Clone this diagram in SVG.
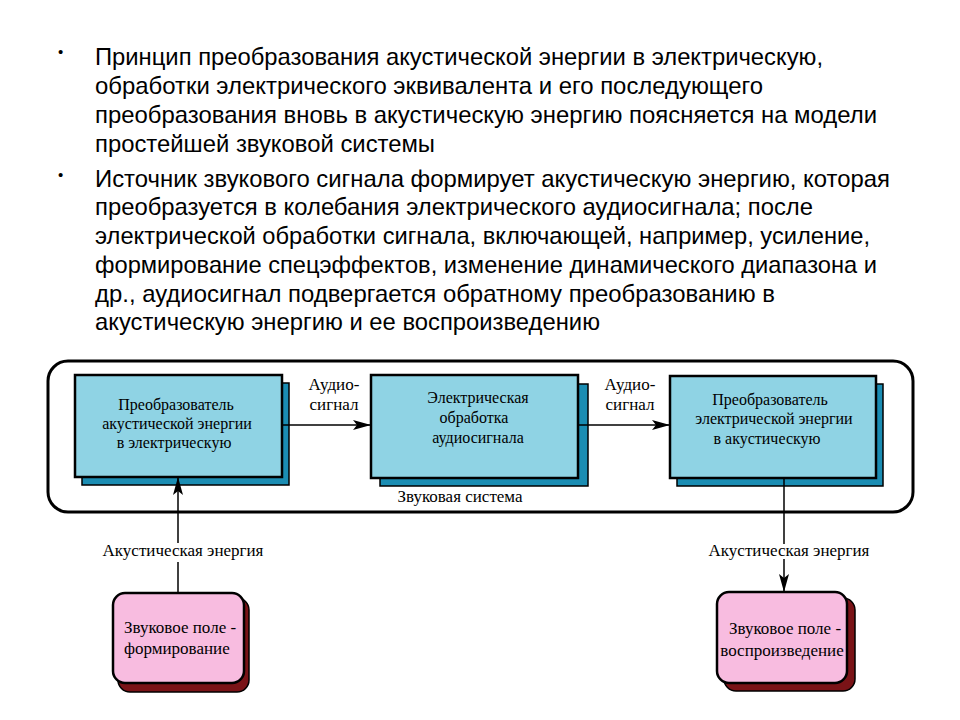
<svg xmlns="http://www.w3.org/2000/svg" width="960" height="720" viewBox="0 0 960 720">
<style>
.t{font-family:"Liberation Sans",Arial,sans-serif;font-size:23.8px;fill:#000}
.b{font-family:"Liberation Sans",Arial,sans-serif;font-size:15px;fill:#000}
.s{font-family:"Liberation Serif","Times New Roman",serif;font-size:16px;fill:#000}
.l{font-family:"Liberation Serif","Times New Roman",serif;font-size:17px;fill:#000}
.c{text-anchor:middle}
.front{fill:#8fd3e4;stroke:#000;stroke-width:2.5}
.shadow{fill:#1b8db3;stroke:#000;stroke-width:1.5}
.pf{fill:#f8bce0;stroke:#000;stroke-width:2.5}
.ps{fill:#7a1317;stroke:#000;stroke-width:1.5}
.ln{stroke:#000;stroke-width:1.5;fill:none}
</style>
<defs>
<marker id="ah" markerUnits="userSpaceOnUse" markerWidth="20" markerHeight="12" refX="18" refY="6" orient="auto">
<path d="M0,1 L18,6 L0,11 L4,6 Z" fill="#000"/>
</marker>
</defs>
<rect width="960" height="720" fill="#fff"/>
<g id="text">
<text class="b" x="58" y="57">•</text>
<text class="t" x="95" y="65" textLength="728" lengthAdjust="spacingAndGlyphs">Принцип преобразования акустической энергии в электрическую,</text>
<text class="t" x="95" y="94" textLength="668" lengthAdjust="spacingAndGlyphs">обработки электрического эквивалента и его последующего</text>
<text class="t" x="95" y="123" textLength="782" lengthAdjust="spacingAndGlyphs">преобразования вновь в акустическую энергию поясняется на модели</text>
<text class="t" x="95" y="152" textLength="340" lengthAdjust="spacingAndGlyphs">простейшей звуковой системы</text>
<text class="b" x="58" y="180">•</text>
<text class="t" x="95" y="187" textLength="795" lengthAdjust="spacingAndGlyphs">Источник звукового сигнала формирует акустическую энергию, которая</text>
<text class="t" x="95" y="215" textLength="718" lengthAdjust="spacingAndGlyphs">преобразуется в колебания электрического аудиосигнала; после</text>
<text class="t" x="95" y="244" textLength="775" lengthAdjust="spacingAndGlyphs">электрической обработки сигнала, включающей, например, усиление,</text>
<text class="t" x="95" y="273" textLength="782" lengthAdjust="spacingAndGlyphs">формирование спецэффектов, изменение динамического диапазона и</text>
<text class="t" x="95" y="302" textLength="680" lengthAdjust="spacingAndGlyphs">др., аудиосигнал подвергается обратному преобразованию в</text>
<text class="t" x="95" y="330" textLength="505" lengthAdjust="spacingAndGlyphs">акустическую энергию и ее воспроизведению</text>
</g>
<g id="system">
<rect x="48" y="361" width="865" height="151" rx="20" fill="none" stroke="#000" stroke-width="3"/>
<text class="l c" x="460" y="502">Звуковая система</text>
</g>
<g id="box1">
<rect class="shadow" x="82" y="383" width="207" height="102"/>
<rect class="front" x="75" y="375" width="207" height="102"/>
<text class="s c" x="176" y="410">Преобразователь</text>
<text class="s c" x="177" y="429">акустической энергии</text>
<text class="s c" x="174" y="448">в электрическую</text>
</g>
<g id="box2">
<rect class="shadow" x="380" y="384" width="208" height="102"/>
<rect class="front" x="371" y="375" width="207" height="103"/>
<text class="s c" x="478" y="403">Электрическая</text>
<text class="s c" x="474" y="423">обработка</text>
<text class="s c" x="478" y="443">аудиосигнала</text>
</g>
<g id="box3">
<rect class="shadow" x="677" y="384" width="206" height="102"/>
<rect class="front" x="670" y="376" width="206" height="102"/>
<text class="s c" x="770" y="405">Преобразователь</text>
<text class="s c" x="774" y="424">электрической энергии</text>
<text class="s c" x="767" y="444">в акустическую</text>
</g>
<g id="field1">
<rect class="ps" x="118" y="598" width="131" height="94" rx="12"/>
<rect class="pf" x="113" y="593" width="131" height="90" rx="12"/>
<text class="l" x="124" y="633">Звуковое поле -</text>
<text class="l" x="124" y="654">формирование</text>
</g>
<g id="field2">
<rect class="ps" x="724" y="598" width="131" height="93" rx="12"/>
<rect class="pf" x="717" y="592" width="130" height="91" rx="12"/>
<text class="l c" x="785" y="634">Звуковое поле -</text>
<text class="l c" x="782" y="656">воспроизведение</text>
</g>
<g id="connectors">
<line class="ln" x1="282" y1="425" x2="371" y2="425" marker-end="url(#ah)"/>
<text class="l c" x="334" y="390">Аудио-</text>
<text class="l c" x="334" y="410">сигнал</text>
<line class="ln" x1="578" y1="425" x2="670" y2="425" marker-end="url(#ah)"/>
<text class="l c" x="630" y="390">Аудио-</text>
<text class="l c" x="630" y="410">сигнал</text>
<line class="ln" x1="178" y1="593" x2="178" y2="562"/>
<line class="ln" x1="178" y1="543" x2="178" y2="477" marker-end="url(#ah)"/>
<text class="l c" x="183" y="556">Акустическая энергия</text>
<line class="ln" x1="784" y1="478" x2="784" y2="544"/>
<line class="ln" x1="784" y1="559" x2="784" y2="592" marker-end="url(#ah)"/>
<text class="l c" x="789" y="556">Акустическая энергия</text>
</g>
</svg>
